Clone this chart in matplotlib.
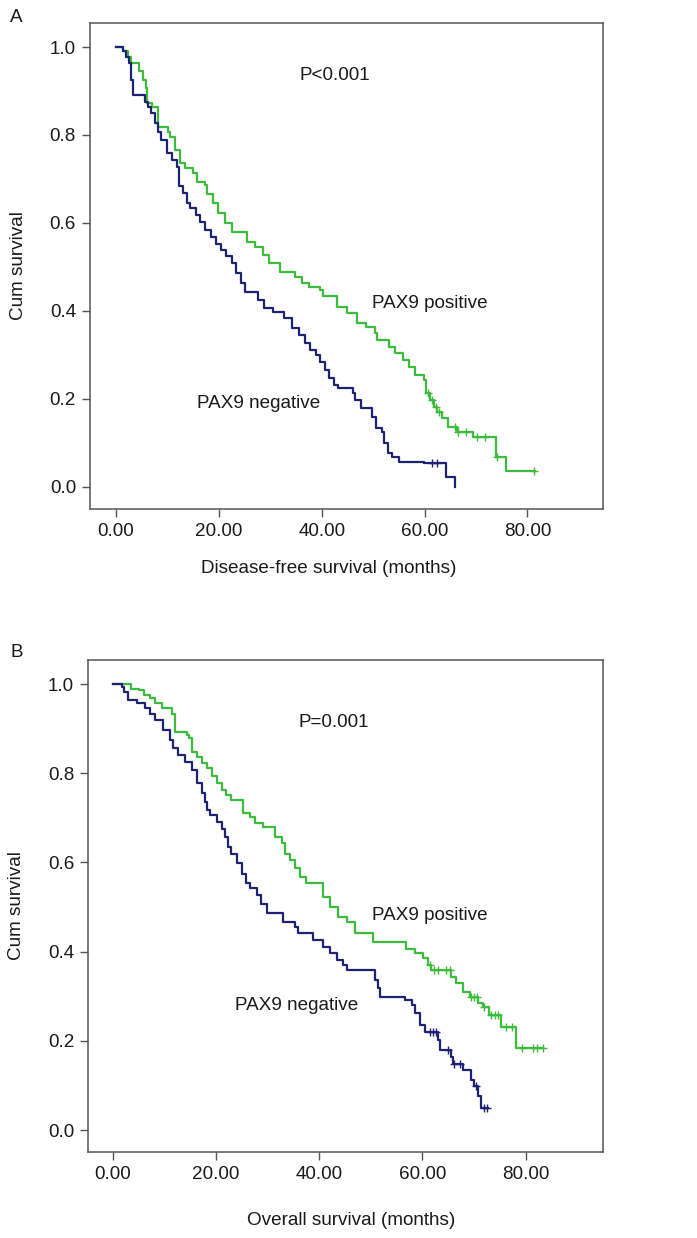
import numpy as np
import matplotlib
matplotlib.use("Agg")
import matplotlib.pyplot as plt

plt.rcParams['font.family'] = ['Liberation Sans', 'DejaVu Sans']

GREEN = '#3dbb3d'
BLUE = '#1e2272'

# ---------------- Panel A: disease-free survival ----------------
a_pos_t = [1.4, 2.3, 3.0, 4.5, 5.3, 5.8, 6.0, 7.0, 8.2, 10.1, 10.5, 11.5, 12.5, 13.5,
           15.0, 15.8, 17.3, 17.7, 18.9, 19.8, 21.2, 22.5, 25.4, 27.0, 28.5, 29.8,
           31.9, 34.8, 36.2, 37.5, 39.7, 40.2, 42.9, 44.9, 46.8, 48.6, 50.4, 50.7,
           53.0, 54.3, 55.8, 57.0, 58.2, 59.8, 60.2, 61.1, 61.8, 62.5, 63.3, 64.6,
           66.3, 69.5, 73.9, 75.9]
a_pos_s = [0.990, 0.978, 0.963, 0.945, 0.925, 0.907, 0.872, 0.864, 0.819, 0.807, 0.796,
           0.766, 0.736, 0.725, 0.713, 0.694, 0.686, 0.667, 0.645, 0.622, 0.600, 0.580,
           0.557, 0.546, 0.527, 0.509, 0.489, 0.478, 0.463, 0.455, 0.448, 0.433, 0.410,
           0.395, 0.372, 0.364, 0.350, 0.334, 0.319, 0.304, 0.289, 0.273, 0.255, 0.243,
           0.213, 0.198, 0.182, 0.171, 0.156, 0.137, 0.126, 0.114, 0.069, 0.036]
a_pos_end = 81.5
a_pos_cens = [60.6, 61.5, 62.2, 62.8, 66.0, 66.6, 68.0, 70.2, 71.8, 74.1, 81.3]

a_neg_t = [1.3, 2.0, 2.6, 3.0, 3.3, 5.6, 6.2, 6.9, 7.5, 8.2, 8.8, 9.9, 10.8, 11.8, 12.2,
           13.0, 13.8, 14.4, 15.6, 16.4, 17.4, 18.4, 19.4, 20.4, 21.4, 22.5, 23.3, 24.3,
           25.1, 27.6, 28.8, 30.5, 32.6, 34.2, 35.5, 36.7, 37.8, 38.8, 39.6, 40.6, 41.5,
           42.4, 43.2, 46.0, 46.4, 47.6, 49.8, 50.5, 51.8, 52.1, 52.8, 53.7, 55.0, 59.9,
           64.1, 66.0]
a_neg_s = [0.990, 0.978, 0.963, 0.925, 0.890, 0.875, 0.864, 0.850, 0.827, 0.807, 0.789,
           0.759, 0.743, 0.728, 0.683, 0.668, 0.645, 0.634, 0.618, 0.603, 0.584, 0.568,
           0.553, 0.539, 0.524, 0.509, 0.486, 0.463, 0.444, 0.425, 0.407, 0.398, 0.384,
           0.361, 0.345, 0.327, 0.311, 0.300, 0.285, 0.266, 0.247, 0.232, 0.225, 0.213,
           0.198, 0.180, 0.160, 0.134, 0.126, 0.099, 0.077, 0.069, 0.057, 0.054, 0.023,
           0.000]
a_neg_end = 66.0
a_neg_cens = [61.5, 62.5]

# ---------------- Panel B: overall survival ----------------
b_pos_t = [3.6, 5.0, 6.0, 7.2, 8.2, 9.5, 11.4, 12.1, 14.3, 14.8, 15.3, 16.3, 17.2, 18.2,
           19.2, 20.1, 21.1, 22.0, 23.0, 25.3, 26.6, 27.5, 29.2, 31.4, 32.7, 33.4, 34.3,
           35.3, 36.3, 37.5, 40.8, 42.1, 43.6, 45.3, 46.9, 50.5, 56.9, 58.5, 60.1, 61.1,
           61.7, 65.6, 66.6, 67.9, 69.2, 70.8, 71.7, 73.0, 75.3, 78.2]
b_pos_s = [0.990, 0.987, 0.975, 0.968, 0.957, 0.946, 0.934, 0.893, 0.886, 0.878, 0.848,
           0.837, 0.822, 0.811, 0.793, 0.778, 0.763, 0.751, 0.740, 0.710, 0.702, 0.688,
           0.680, 0.658, 0.643, 0.620, 0.605, 0.587, 0.568, 0.553, 0.523, 0.500, 0.478,
           0.467, 0.441, 0.422, 0.407, 0.396, 0.385, 0.370, 0.359, 0.344, 0.329, 0.310,
           0.299, 0.284, 0.277, 0.258, 0.232, 0.184]
b_pos_end = 83.4
b_pos_cens = [61.5, 62.3, 63.0, 64.5, 65.3, 69.4, 70.1, 70.5, 71.9, 73.3, 74.0, 74.6,
              76.2, 77.4, 79.4, 81.5, 82.2, 83.3]

b_neg_t = [1.7, 2.1, 3.0, 4.6, 6.3, 7.2, 8.2, 9.8, 11.1, 11.7, 12.7, 14.0, 15.3, 16.3,
           17.2, 17.9, 18.2, 18.8, 20.1, 21.1, 21.7, 22.4, 23.0, 24.0, 25.0, 25.9, 26.6,
           27.9, 28.8, 29.8, 33.0, 35.3, 35.9, 38.8, 40.8, 42.0, 43.4, 44.6, 45.3, 50.8,
           51.4, 51.7, 56.6, 57.9, 58.5, 59.5, 60.5, 63.0, 63.4, 65.6, 65.9, 67.9, 69.5,
           70.1, 70.8, 71.4]
b_neg_s = [0.994, 0.983, 0.964, 0.957, 0.946, 0.934, 0.919, 0.897, 0.874, 0.856, 0.841,
           0.826, 0.807, 0.778, 0.755, 0.736, 0.717, 0.706, 0.691, 0.676, 0.658, 0.635,
           0.620, 0.598, 0.575, 0.553, 0.542, 0.527, 0.508, 0.486, 0.467, 0.456, 0.441,
           0.426, 0.411, 0.396, 0.381, 0.370, 0.359, 0.336, 0.318, 0.299, 0.291, 0.280,
           0.262, 0.235, 0.220, 0.202, 0.179, 0.164, 0.149, 0.135, 0.113, 0.098, 0.076,
           0.050]
b_neg_end = 72.8
b_neg_cens = [61.4, 62.1, 62.7, 64.9, 66.2, 67.2, 70.4, 72.0, 72.6]

FS = 13.6


def km_step(ax, times, surv, end, cens, color):
    t = np.array([0.0] + list(times) + [end])
    s = np.array([1.0] + list(surv) + [surv[-1]])
    ax.step(t, s, where='post', color=color, lw=1.6, zorder=3)
    c = np.array(cens)
    idx = np.searchsorted(t, c, side='right') - 1
    ax.plot(c, s[idx], linestyle='none', marker='+', color=color,
            markersize=6, mew=1.0, zorder=4)


def style_axes(ax, xlim, ylim):
    ax.set_xlim(*xlim)
    ax.set_ylim(*ylim)
    for sp in ax.spines.values():
        sp.set_color('#555555')
        sp.set_linewidth(1.1)
    ax.set_xticks([0, 20, 40, 60, 80])
    ax.set_xticklabels(['0.00', '20.00', '40.00', '60.00', '80.00'])
    ax.set_yticks([0.0, 0.2, 0.4, 0.6, 0.8, 1.0])
    ax.set_yticklabels(['0.0', '0.2', '0.4', '0.6', '0.8', '1.0'])
    ax.tick_params(axis='both', direction='out', length=6, width=1.0,
                   color='#555555', labelsize=FS, labelcolor='#1a1a1a', pad=4)
    ax.set_ylabel('Cum survival', fontsize=FS, color='#1a1a1a')
    ax.yaxis.set_label_coords(-0.122, 0.5)


fig = plt.figure(figsize=(6.97, 12.38), dpi=100)

axA = fig.add_axes([0.1291, 0.5889, 0.7360, 0.3925])
km_step(axA, a_pos_t, a_pos_s, a_pos_end, a_pos_cens, GREEN)
km_step(axA, a_neg_t, a_neg_s, a_neg_end, a_neg_cens, BLUE)
style_axes(axA, (-5.06, 94.7), (-0.05, 1.0545))
axA.set_xlabel('Disease-free survival (months)', fontsize=FS, color='#1a1a1a')
axA.xaxis.set_label_coords(0.465, -0.105)
axA.text(42.6, 0.936, 'P<0.001', fontsize=FS, ha='center', va='center', color='#1a1a1a')
axA.text(49.8, 0.418, 'PAX9 positive', fontsize=FS, ha='left', va='center', color='#1a1a1a')
axA.text(15.8, 0.189, 'PAX9 negative', fontsize=FS, ha='left', va='center', color='#1a1a1a')
fig.text(10 / 697, 1 - 18 / 1238, 'A', fontsize=FS, ha='left', va='center', color='#1a1a1a')

axB = fig.add_axes([0.1263, 0.0695, 0.7388, 0.3974])
km_step(axB, b_pos_t, b_pos_s, b_pos_end, b_pos_cens, GREEN)
km_step(axB, b_neg_t, b_neg_s, b_neg_end, b_neg_cens, BLUE)
style_axes(axB, (-4.8, 95.0), (-0.049, 1.054))
axB.set_xlabel('Overall survival (months)', fontsize=FS, color='#1a1a1a')
axB.xaxis.set_label_coords(0.51, -0.122)
axB.text(42.9, 0.913, 'P=0.001', fontsize=FS, ha='center', va='center', color='#1a1a1a')
axB.text(50.2, 0.482, 'PAX9 positive', fontsize=FS, ha='left', va='center', color='#1a1a1a')
axB.text(23.7, 0.280, 'PAX9 negative', fontsize=FS, ha='left', va='center', color='#1a1a1a')
fig.text(10 / 697, 1 - 652 / 1238, 'B', fontsize=FS, ha='left', va='center', color='#1a1a1a')

fig.savefig('out.png', dpi=100, facecolor='white')
